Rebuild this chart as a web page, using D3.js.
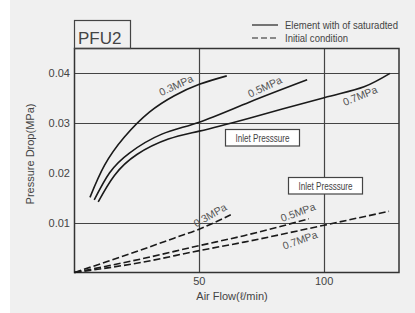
<!DOCTYPE html>
<html>
<head>
<meta charset="utf-8">
<script src="https://d3js.org/d3.v7.min.js"></script>
<style>
  body { margin: 0; background: #fff; }
  text { font-family: "Liberation Sans", Arial, sans-serif; fill: #444; }
</style>
</head>
<body>
<div id="chart"></div>
<script>
// Data
const xTicks = [50, 100];
const yTicks = [0.01, 0.02, 0.03, 0.04];
const yGrid = [0.01, 0.03, 0.04];

const solid03 = [[6.2, 0.0151], [12, 0.0215], [20, 0.0272], [30, 0.0322], [40, 0.0355], [50, 0.0378], [61, 0.0395]];
const solid05 = [[7.9, 0.0146], [14, 0.0200], [22, 0.0240], [35, 0.0278], [50, 0.0302], [70, 0.0342], [93.2, 0.0387]];
const solid07 = [[9.5, 0.0142], [16, 0.0195], [25, 0.0237], [37.6, 0.0268], [50, 0.0284], [70, 0.0310], [100, 0.0351], [116, 0.0373], [126.4, 0.0400]];

const dash03 = [[0, 0], [13.1, 0.0022], [26.5, 0.0045], [39.9, 0.0069], [49.9, 0.0087], [62.6, 0.0116]];
const dash05 = [[0, 0], [26.5, 0.0027], [50, 0.0054], [67.9, 0.0074], [93.9, 0.0108]];
const dash07 = [[0, 0], [26.5, 0.0020], [50, 0.0044], [67.9, 0.0061], [100, 0.0095], [126, 0.0123]];

const solidLabels = [
  { text: '0.3MPa', x: 40.7, y: 0.0376, angle: -25 },
  { text: '0.5MPa', x: 76.3, y: 0.0373, angle: -25 },
  { text: '0.7MPa', x: 114.4, y: 0.0355, angle: -22 }
];
const dashLabels = [
  { text: '0.3MPa', x: 54.3, y: 0.0115, angle: -30 },
  { text: '0.5MPa', x: 89.5, y: 0.0121, angle: -20 },
  { text: '0.7MPa', x: 90.3, y: 0.0065, angle: -20 }
];

window.addEventListener("DOMContentLoaded", function() {
    const width = 415, height = 313;
    const svg = d3.select('#chart').append('svg')
        .attr('width', width).attr('height', height);

    // gray panel
    svg.append('rect').attr('x', 10).attr('y', 0)
        .attr('width', width - 10).attr('height', height).attr('fill', '#f0f0f0');

    const x = d3.scaleLinear().domain([0, 130]).range([74.5, 399]);
    const y = d3.scaleLinear().domain([0, 0.045]).range([272.5, 48.5]);

    // grid
    svg.selectAll('.hg').data(yGrid).enter().append('line')
        .attr('x1', x(0)).attr('x2', x(130))
        .attr('y1', d => Math.round(y(d)) + 0.5).attr('y2', d => Math.round(y(d)) + 0.5)
        .attr('stroke', '#444').attr('stroke-width', 1.2);
    svg.selectAll('.vg').data(xTicks).enter().append('line')
        .attr('y1', y(0)).attr('y2', y(0.045))
        .attr('x1', d => Math.round(x(d)) + 0.5).attr('x2', d => Math.round(x(d)) + 0.5)
        .attr('stroke', '#444').attr('stroke-width', 1.2);

    // frame
    svg.append('rect').attr('x', x(0)).attr('y', y(0.045))
        .attr('width', x(130) - x(0)).attr('height', y(0) - y(0.045))
        .attr('fill', 'none').attr('stroke', '#333').attr('stroke-width', 1.5);

    // title box
    svg.append('rect').attr('x', x(0)).attr('y', 20.5)
        .attr('width', 56).attr('height', y(0.045) - 20.5)
        .attr('fill', 'none').attr('stroke', '#444').attr('stroke-width', 1.2);
    svg.append('text').attr('x', 78).attr('y', 43.5)
        .style('font-size', '17px').text('PFU2');

    // tick labels
    svg.selectAll('.yt').data(yTicks).enter().append('text')
        .attr('x', 70).attr('y', d => y(d) + 4)
        .attr('text-anchor', 'end')
        .style('font-size', '11px').text(d => d.toFixed(2));
    svg.selectAll('.xt').data(xTicks).enter().append('text')
        .attr('x', d => x(d)).attr('y', 285)
        .attr('text-anchor', 'middle')
        .style('font-size', '11px').text(d => d);

    // axis titles
    svg.append('text').attr('x', 232).attr('y', 300)
        .attr('text-anchor', 'middle')
        .style('font-size', '11px').text('Air Flow(ℓ/min)');
    svg.append('text')
        .attr('transform', 'translate(34,154) rotate(-90)')
        .attr('text-anchor', 'middle')
        .style('font-size', '11px').text('Pressure Drop(MPa)');

    // curves
    const smooth = d3.line().x(d => x(d[0])).y(d => y(d[1])).curve(d3.curveNatural);
    const line = d3.line().x(d => x(d[0])).y(d => y(d[1])).curve(d3.curveMonotoneX);
    [solid03, solid05, solid07].forEach(s => {
        svg.append('path').attr('d', smooth(s))
            .attr('fill', 'none').attr('stroke', '#1a1a1a').attr('stroke-width', 1.6);
    });
    [dash03, dash05, dash07].forEach(s => {
        svg.append('path').attr('d', line(s))
            .attr('fill', 'none').attr('stroke', '#1a1a1a').attr('stroke-width', 1.6)
            .attr('stroke-dasharray', '7,3');
    });

    // curve labels
    svg.selectAll('.cl').data(solidLabels.concat(dashLabels)).enter().append('text')
        .attr('transform', d => `translate(${x(d.x)},${y(d.y)}) rotate(${d.angle})`)
        .attr('text-anchor', 'middle')
        .attr('dy', '0.35em')
        .style('fill', '#555')
        .style('font-size', '10.5px').text(d => d.text);

    // inlet pressure boxes
    const boxes = [{ x: 225.5, y: 129.5 }, { x: 288.5, y: 177.5 }];
    boxes.forEach(b => {
        svg.append('rect').attr('x', b.x).attr('y', b.y)
            .attr('width', 74).attr('height', 16.5)
            .attr('fill', '#fff').attr('stroke', '#444').attr('stroke-width', 1.2);
        svg.append('text').attr('x', b.x + 10).attr('y', b.y + 12)
            .attr('textLength', 54).attr('lengthAdjust', 'spacingAndGlyphs')
            .style('font-size', '10px').text('Inlet Presssure');
    });

    // legend
    svg.append('line').attr('x1', 252).attr('x2', 278).attr('y1', 25).attr('y2', 25)
        .attr('stroke', '#222').attr('stroke-width', 1.2);
    svg.append('line').attr('x1', 252).attr('x2', 278).attr('y1', 38).attr('y2', 38)
        .attr('stroke', '#222').attr('stroke-width', 1.2).attr('stroke-dasharray', '6,3');
    svg.append('text').attr('x', 285).attr('y', 29)
        .attr('textLength', 113).attr('lengthAdjust', 'spacingAndGlyphs')
        .style('font-size', '11px').text('Element with of saturadted');
    svg.append('text').attr('x', 285).attr('y', 42)
        .attr('textLength', 63).attr('lengthAdjust', 'spacingAndGlyphs')
        .style('font-size', '11px').text('Initial condition');
});
</script>
</body>
</html>
